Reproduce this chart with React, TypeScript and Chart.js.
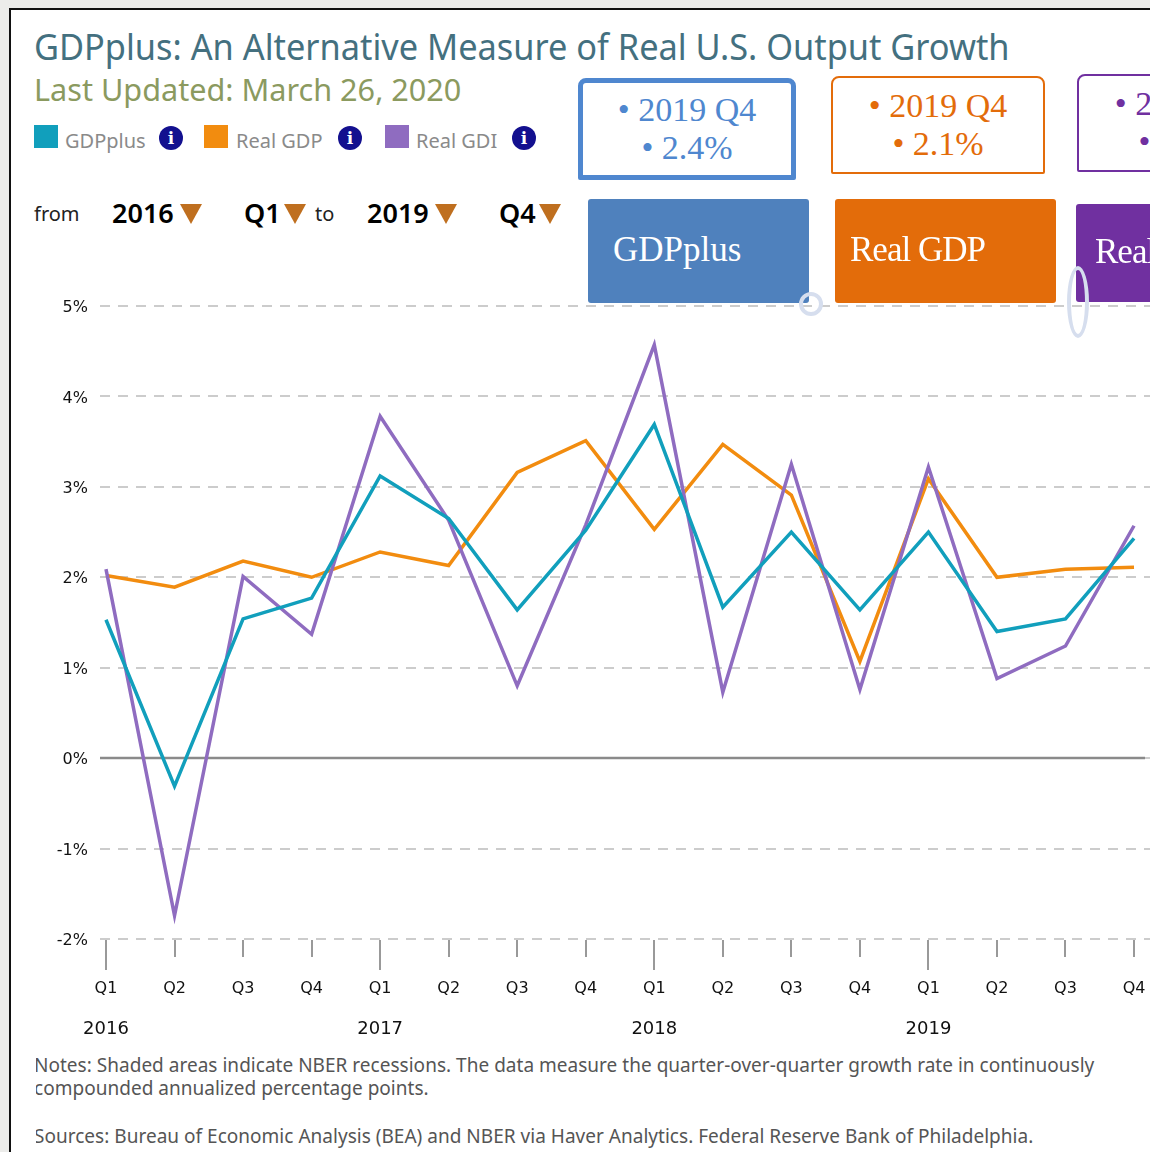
import React, { useEffect, useRef } from "react";
import { Chart, registerables } from "chart.js";

Chart.register(...registerables);

const quarters = ["Q1","Q2","Q3","Q4","Q1","Q2","Q3","Q4","Q1","Q2","Q3","Q4","Q1","Q2","Q3","Q4"];
const years = ["2016","2017","2018","2019"];
const yearStarts = [0,4,8,12];
const yTicks = [-2,-1,0,1,2,3,4,5];
const gdpPlus = [1.53,-0.31,1.54,1.77,3.12,2.65,1.64,2.52,3.69,1.67,2.50,1.64,2.50,1.40,1.54,2.43];
const realGdp = [2.02,1.89,2.18,2.00,2.28,2.13,3.16,3.51,2.53,3.47,2.91,1.07,3.09,2.00,2.09,2.11];
const realGdi = [2.09,-1.74,2.01,1.37,3.78,2.63,0.80,2.58,4.57,0.73,3.25,0.76,3.22,0.88,1.24,2.57];

const TEAL = "#119fbc";
const ORANGE = "#f28c0f";
const PURPLE = "#8f6cc0";
const LABEL_FONT = "'DejaVu Sans', sans-serif";
const HEAD_FONT = "'Noto Sans', sans-serif";
const SERIF = "'Liberation Serif', serif";

const toPoints = (vals: number[]) => vals.map((y, x) => ({ x, y }));

const noHorizontalPad = (s: any) => { s.paddingLeft = 0; s.paddingRight = 0; };

const axisMarks = {
  id: "axisMarks",
  beforeDatasetsDraw(chart: any) {
    const { ctx, scales, chartArea } = chart;
    ctx.save();
    ctx.strokeStyle = "#8a8a8a";
    ctx.lineWidth = 2.5;
    ctx.beginPath();
    const y0 = Math.round(scales.y.getPixelForValue(0));
    ctx.moveTo(chartArea.left, y0);
    ctx.lineTo(chartArea.right - 5, y0);
    ctx.stroke();
    ctx.strokeStyle = "#777";
    ctx.lineWidth = 1.5;
    quarters.forEach((q, i) => {
      const x = Math.round(scales.x.getPixelForValue(i));
      ctx.beginPath();
      ctx.moveTo(x, chartArea.bottom + 1);
      ctx.lineTo(x, chartArea.bottom + (q === "Q1" ? 31 : 18));
      ctx.stroke();
    });
    ctx.restore();
  },
};

const abs = (left: number, top: number, extra: React.CSSProperties = {}): React.CSSProperties => ({
  position: "absolute",
  left,
  top,
  whiteSpace: "nowrap",
  ...extra,
});

function Info({ left, top }: { left: number; top: number }) {
  return (
    <div style={abs(left, top, {
      width: 24, height: 24, borderRadius: "50%", background: "#13108f", color: "#fff",
      font: "bold 17px/24px 'DejaVu Serif', serif", textAlign: "center",
    })}>i</div>
  );
}

function Tri({ left, top }: { left: number; top: number }) {
  return (
    <div style={abs(left, top, {
      width: 0, height: 0, borderLeft: "11px solid transparent", borderRight: "11px solid transparent",
      borderTop: "20px solid #bf6f1f",
    })} />
  );
}

function ValueBox({ left, top, w, h, border, color, a, b }: any) {
  return (
    <div style={abs(left, top, {
      width: w, height: h, boxSizing: "border-box", border: `${border}px solid ${color}`,
      borderRadius: "8px 8px 2px 2px", background: "#fff", color: color,
      font: `34px/38px ${SERIF}`, textAlign: "center", paddingTop: border > 3 ? 8 : 9,
      overflow: "hidden",
    })}>
      <div>• {a}</div>
      <div>• {b}</div>
    </div>
  );
}

function NameBox({ left, top, w, h, bg, text, pad, spacing }: any) {
  return (
    <div style={abs(left, top, {
      width: w, height: h, boxSizing: "border-box", background: bg, borderRadius: 3,
      color: "#fff", font: `35px/${h - 3}px ${SERIF}`, paddingLeft: pad, overflow: "hidden",
      letterSpacing: spacing,
    })}>{text}</div>
  );
}

export default function App() {
  const ref = useRef<HTMLCanvasElement>(null);

  useEffect(() => {
    document.body.style.margin = "0";
    const chart = new Chart(ref.current as HTMLCanvasElement, {
      type: "line",
      data: {
        datasets: [
          { label: "GDPplus", data: toPoints(gdpPlus), borderColor: TEAL, borderWidth: 3.5 },
          { label: "Real GDI", data: toPoints(realGdi), borderColor: PURPLE, borderWidth: 3.5 },
          { label: "Real GDP", data: toPoints(realGdp), borderColor: ORANGE, borderWidth: 3.5 },
        ],
      },
      options: {
        animation: false,
        responsive: false,
        layout: { padding: { top: 16, left: 0, right: 0, bottom: 0 } },
        elements: { point: { radius: 0 }, line: { tension: 0, borderJoinStyle: "miter" } },
        plugins: { legend: { display: false }, tooltip: { enabled: false } },
        scales: {
          x: {
            type: "linear",
            min: -0.0875,
            max: 15.233,
            position: "bottom",
            border: { display: false },
            grid: { display: false, drawTicks: false },
            afterBuildTicks: (s: any) => { s.ticks = quarters.map((_, value) => ({ value })); },
            afterFit: (s: any) => { s.height = 60; noHorizontalPad(s); },
            ticks: {
              autoSkip: false, maxRotation: 0, padding: 40, color: "#111",
              font: { family: LABEL_FONT, size: 16 },
              callback: (v: any) => quarters[v as number],
            },
          },
          x2: {
            type: "linear",
            min: -0.0875,
            max: 15.233,
            position: "bottom",
            border: { display: false },
            grid: { display: false, drawTicks: false },
            afterBuildTicks: (s: any) => { s.ticks = yearStarts.map((value) => ({ value })); },
            afterFit: (s: any) => { s.height = 51; noHorizontalPad(s); },
            ticks: {
              autoSkip: false, maxRotation: 0, padding: 20, color: "#111",
              font: { family: LABEL_FONT, size: 18 },
              callback: (v: any) => years[yearStarts.indexOf(v as number)],
            },
          },
          y: {
            type: "linear",
            min: -2,
            max: 5,
            border: { display: false, dash: [10, 8] },
            grid: { color: "#cccccc", lineWidth: 2, drawTicks: false },
            afterBuildTicks: (s: any) => { s.ticks = yTicks.map((value) => ({ value })); },
            afterFit: (s: any) => { s.width = 100; s.paddingTop = 0; s.paddingBottom = 0; },
            ticks: {
              padding: 12, color: "#111", labelOffset: 2,
              font: { family: LABEL_FONT, size: 16 },
              callback: (v: any) => `${v}%`,
            },
          },
        },
      },
      plugins: [axisMarks],
    } as any);
    return () => chart.destroy();
  }, []);

  return (
    <div style={{ position: "relative", width: 1150, height: 1152, overflow: "hidden", background: "#ececea" }}>
      <div style={{
        position: "absolute", left: 9, top: 8, width: 1200, height: 1200, background: "#fff",
        border: "2px solid #111",
      }} />

      <div style={abs(34, 24, { font: `36px/46px ${HEAD_FONT}`, color: "#44707f", transform: "scaleX(0.954)", transformOrigin: "left" })}>
        GDPplus: An Alternative Measure of Real U.S. Output Growth
      </div>
      <div style={abs(34, 69, { font: `31px/40px ${HEAD_FONT}`, color: "#8b9a5f", transform: "scaleX(0.988)", transformOrigin: "left" })}>
        Last Updated: March 26, 2020
      </div>

      <div style={abs(34, 125, { width: 24, height: 23, background: TEAL })} />
      <div style={abs(65, 127, { font: `20px/28px ${HEAD_FONT}`, color: "#8a8a8a" })}>GDPplus</div>
      <Info left={159} top={126} />
      <div style={abs(204, 125, { width: 24, height: 23, background: ORANGE })} />
      <div style={abs(236, 127, { font: `20px/28px ${HEAD_FONT}`, color: "#8a8a8a" })}>Real GDP</div>
      <Info left={338} top={126} />
      <div style={abs(385, 125, { width: 24, height: 23, background: PURPLE })} />
      <div style={abs(416, 127, { font: `20px/28px ${HEAD_FONT}`, color: "#8a8a8a" })}>Real GDI</div>
      <Info left={512} top={126} />

      <div style={abs(34, 199, { font: `20px/30px ${HEAD_FONT}`, color: "#222" })}>from</div>
      <div style={abs(112, 197, { font: `600 27px/32px ${HEAD_FONT}`, color: "#000" })}>2016</div>
      <Tri left={180} top={204} />
      <div style={abs(244, 197, { font: `600 27px/32px ${HEAD_FONT}`, color: "#000" })}>Q1</div>
      <Tri left={284} top={204} />
      <div style={abs(315, 199, { font: `20px/30px ${HEAD_FONT}`, color: "#222" })}>to</div>
      <div style={abs(367, 197, { font: `600 27px/32px ${HEAD_FONT}`, color: "#000" })}>2019</div>
      <Tri left={435} top={204} />
      <div style={abs(499, 197, { font: `600 27px/32px ${HEAD_FONT}`, color: "#000" })}>Q4</div>
      <Tri left={539} top={204} />

      <canvas ref={ref} width={1150} height={760} style={{ position: "absolute", left: 0, top: 290, display: "block" }} />

      <ValueBox left={578} top={78} w={218} h={102} border={5} color="#4f87cf" a="2019 Q4" b="2.4%" />
      <ValueBox left={831} top={76} w={214} h={98} border={2} color="#e36c0a" a="2019 Q4" b="2.1%" />
      <ValueBox left={1077} top={74} w={214} h={98} border={2} color="#7030a0" a="2019 Q4" b="2.6%" />

      <NameBox left={588} top={199} w={221} h={104} bg="#4f81bd" text="GDPplus" pad={25} />
      <NameBox left={835} top={199} w={221} h={104} bg="#e36c0a" text="Real GDP" pad={15} spacing="-1px" />
      <NameBox left={1076} top={204} w={200} h={98} bg="#7030a0" text="Real GDI" pad={19} spacing="-1px" />

      <div style={abs(799, 292, { width: 24, height: 24, boxSizing: "border-box", border: "4px solid #d6deee", borderRadius: "50%" })} />
      <div style={abs(1067, 266, { width: 22, height: 72, boxSizing: "border-box", border: "4px solid #d6deee", borderRadius: "50%" })} />

      <div style={abs(36, 1054, { width: 1114, height: 98, overflow: "hidden", color: "#555", font: `19px/23px ${HEAD_FONT}`, letterSpacing: "0.02px" })}>
        <div style={{ marginLeft: -2 }}>Notes: Shaded areas indicate NBER recessions. The data measure the quarter-over-quarter growth rate in continuously</div>
        <div style={{ marginLeft: -2 }}>compounded annualized percentage points.</div>
        <div style={{ marginLeft: -2, marginTop: 25 }}>Sources: Bureau of Economic Analysis (BEA) and NBER via Haver Analytics. Federal Reserve Bank of Philadelphia.</div>
      </div>
    </div>
  );
}
